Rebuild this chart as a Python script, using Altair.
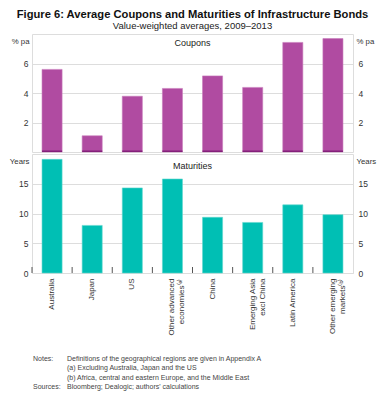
import altair as alt
import pandas as pd

categories = ["Australia", "Japan", "US", "Other advanced\neconomies⁽ᵃ⁾", "China",
              "Emerging Asia\nexcl China", "Latin America", "Other emerging\nmarkets⁽ᵇ⁾"]
coupons = [5.6, 1.1, 3.78, 4.31, 5.16, 4.38, 7.43, 7.69]
maturities = [19.1, 8.0, 14.3, 15.8, 9.36, 8.5, 11.45, 9.8]

notes_labels = ["Notes:", "", "", "Sources:"]
notes_text = ["Definitions of the geographical regions are given in Appendix A",
              "(a) Excluding Australia, Japan and the US",
              "(b) Africa, central and eastern Europe, and the Middle East",
              "Bloomberg; Dealogic; authors' calculations"]

df = pd.DataFrame({"cat": categories, "coupon": coupons, "maturity": maturities})

W = 321
H1 = 118
H2 = 119
PURPLE = "#B04BA1"
TEAL = "#00BFB4"
FONT = "Liberation Sans"
LBL = "#333333"

xscale = alt.Scale(paddingInner=0.5, paddingOuter=0.25)
xenc_top = alt.X("cat:N", sort=categories, axis=None, scale=xscale)
xenc_bot = alt.X("cat:N", sort=categories, title=None, scale=xscale,
                 axis=alt.Axis(labelAngle=-90, ticks=False, domain=False, labelFont=FONT,
                               labelFontSize=8, labelColor=LBL, labelPadding=5,
                               labelLineHeight=10, labelLimit=200,
                               labelExpr="split(datum.label, '\\n')"))


def yaxis(values, orient, title, grid):
    left = orient == "left"
    return alt.Axis(values=values, orient=orient, ticks=False, domain=False, grid=grid,
                    gridColor="#dddddd", labelFont=FONT, labelFontSize=8.5, labelColor=LBL,
                    labelPadding=4 if left else 5, title=title, titleAngle=0, titleFont=FONT,
                    titleFontSize=7.8, titleFontWeight="normal", titleColor=LBL,
                    titleAlign="right" if left else "left", titleBaseline="middle",
                    titleX=-3 if left else 3, titleY=7)


top_scale = alt.Scale(domain=[0, 8], nice=False)
bars_top = alt.Chart(df).mark_bar(color=PURPLE, stroke="#C77BBA", strokeWidth=0.6).encode(
    x=xenc_top,
    y=alt.Y("coupon:Q", scale=top_scale, axis=yaxis([2, 4, 6], "left", "% pa", True)),
)
bars_top_r = alt.Chart(df).mark_bar(opacity=0).encode(
    x=xenc_top,
    y=alt.Y("coupon:Q", scale=top_scale, axis=yaxis([2, 4, 6], "right", "% pa", False)),
)
base_top = alt.Chart(df).mark_bar(color="#84207A").encode(
    x=xenc_top, y=alt.value(H1 - 1.5), y2=alt.value(H1))
title_top = alt.Chart(pd.DataFrame({"t": ["Coupons"]})).mark_text(
    font=FONT, fontSize=9, color="#222222", baseline="middle").encode(
    text="t:N", x=alt.value(W / 2), y=alt.value(9))

top = alt.layer(bars_top, bars_top_r, base_top, title_top).resolve_scale(
    y="independent").properties(width=W, height=H1)

bot_scale = alt.Scale(domain=[0, 20], nice=False)
bars_bot = alt.Chart(df).mark_bar(color=TEAL, stroke="#5FD6CE", strokeWidth=0.6).encode(
    x=xenc_bot,
    y=alt.Y("maturity:Q", scale=bot_scale, axis=yaxis([0, 5, 10, 15], "left", "Years", True)),
)
bars_bot_r = alt.Chart(df).mark_bar(opacity=0).encode(
    x=xenc_bot,
    y=alt.Y("maturity:Q", scale=bot_scale, axis=yaxis([0, 5, 10, 15], "right", "Years", False)),
)
ticks_bot = alt.Chart(df).mark_rule(color="#555555", strokeWidth=1, xOffset=-W / 16).encode(
    x=xenc_bot, y=alt.value(H2 - 6), y2=alt.value(H2))
title_bot = alt.Chart(pd.DataFrame({"t": ["Maturities"]})).mark_text(
    font=FONT, fontSize=9, color="#222222", baseline="middle").encode(
    text="t:N", x=alt.value(W / 2), y=alt.value(12))

ndf = pd.DataFrame({"lab": notes_labels, "txt": notes_text, "i": [0, 1, 2, 3]})
ndf["y"] = H2 + 86 + ndf["i"] * 9.3
notes_lab = alt.Chart(ndf).mark_text(font=FONT, fontSize=7, color="#444444", align="left",
                                      baseline="middle").encode(
    text="lab:N", x=alt.value(1), y=alt.Y("y:Q", scale=None))
notes_txt = alt.Chart(ndf).mark_text(font=FONT, fontSize=7, color="#444444", align="left",
                                      baseline="middle").encode(
    text="txt:N", x=alt.value(35), y=alt.Y("y:Q", scale=None))

bot = alt.layer(bars_bot, bars_bot_r, ticks_bot, title_bot, notes_lab, notes_txt).resolve_scale(
    y="independent").properties(width=W, height=H2)

chart = alt.vconcat(top, bot, spacing=0).properties(
    title=alt.TitleParams(
        "Figure 6: Average Coupons and Maturities of Infrastructure Bonds",
        subtitle="Value-weighted averages, 2009–2013",
        font=FONT, fontSize=11.2, fontWeight="bold", color="#111111",
        subtitleFont=FONT, subtitleFontSize=9.5, subtitleColor="#222222",
        subtitlePadding=1, anchor="middle", offset=3),
    padding={"left": 0, "top": 0, "right": 0, "bottom": 0},
).configure_view(stroke="#888888", strokeWidth=1).configure(background="white")

chart.save("out.html", embed_options={"renderer": "svg", "actions": False})
